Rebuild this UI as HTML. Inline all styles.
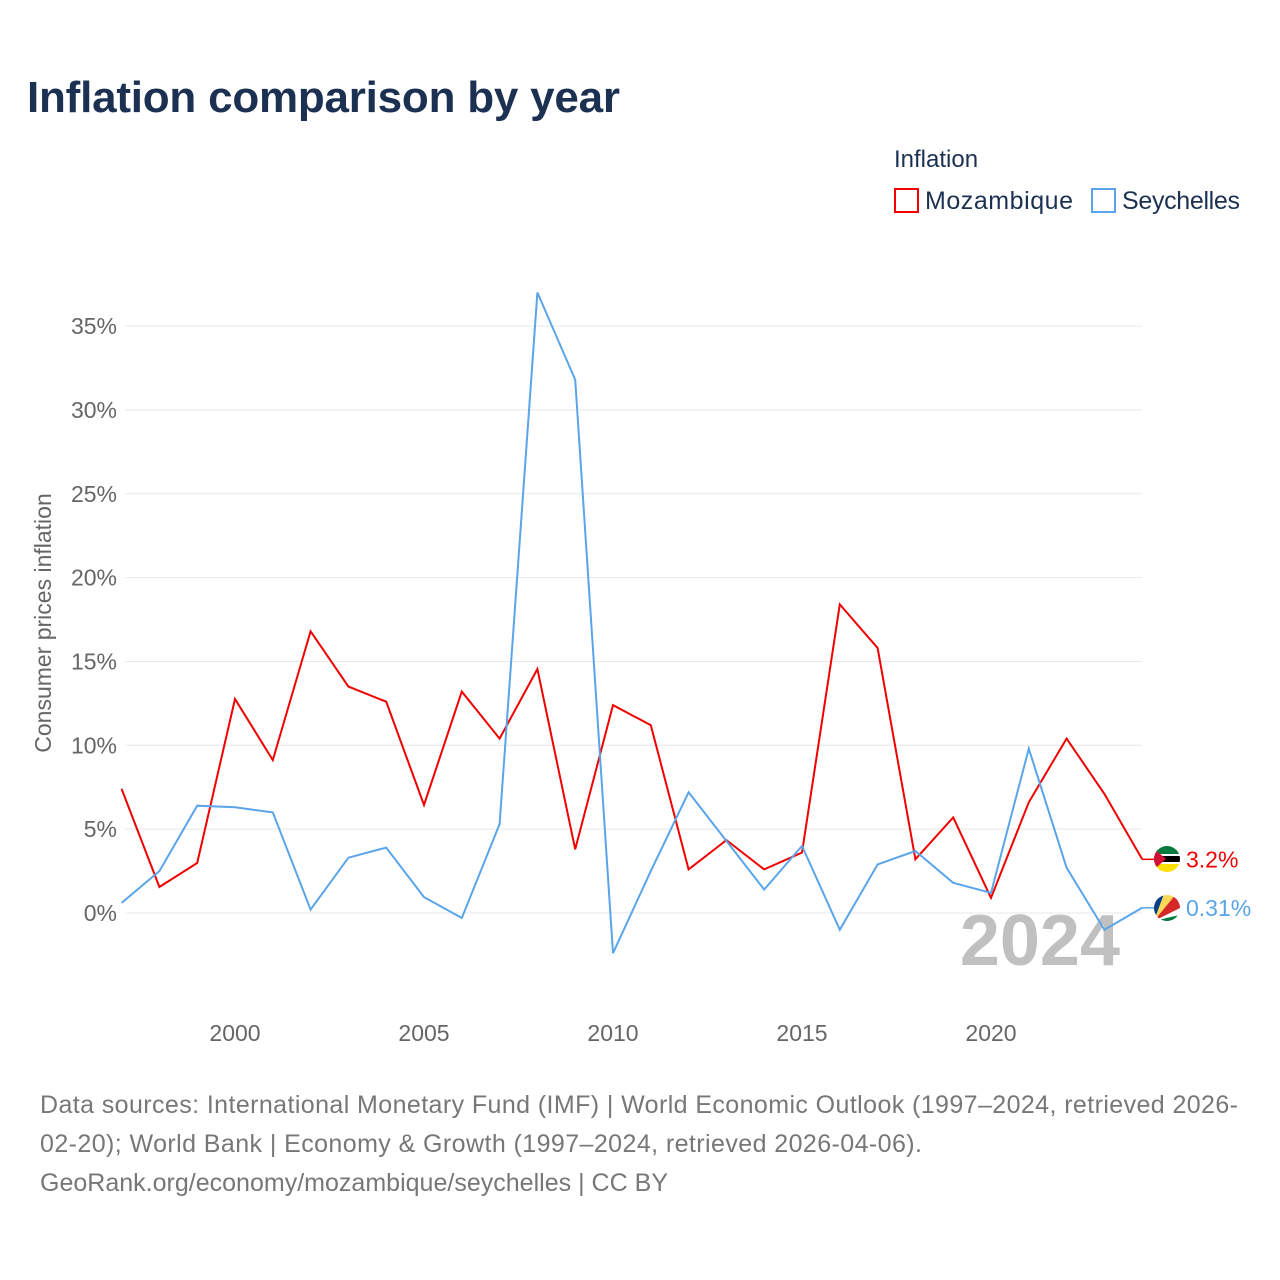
<!DOCTYPE html>
<html><head><meta charset="utf-8"><style>
body{margin:0;background:#fff;font-family:"Liberation Sans",sans-serif;}
#wrap{position:relative;width:1280px;height:1280px;overflow:hidden;}
</style></head><body>
<div id="wrap">
<svg id="chart" width="1280" height="1280">
<defs>
<clipPath id="cm"><circle cx="1167" cy="859" r="13"/></clipPath>
<clipPath id="cs"><circle cx="1167" cy="908" r="13"/></clipPath>
</defs>
<text x="27" y="112" font-size="44" font-weight="bold" fill="#1c3152" textLength="593">Inflation comparison by year</text>
<text x="894" y="167" font-size="24" fill="#1c3152">Inflation</text>
<g><rect x="895" y="189" width="23" height="23" fill="none" stroke="#f00000" stroke-width="2"/><text x="925" y="209" font-size="25" fill="#1c3152" textLength="148">Mozambique</text></g>
<g><rect x="1092" y="189" width="23" height="23" fill="none" stroke="#5aa5ea" stroke-width="2"/><text x="1122" y="209" font-size="25" fill="#1c3152" textLength="118">Seychelles</text></g>
<text transform="translate(51,623) rotate(-90)" text-anchor="middle" font-size="23" fill="#666">Consumer prices inflation</text>
<g id="grid"></g><g id="yticks"></g><g id="xticks"></g>
<text x="1120" y="965" text-anchor="end" font-size="72" font-weight="bold" fill="#c0c0c0">2024</text>
<g id="series"></g>
<g clip-path="url(#cm)">
<rect x="1150" y="845" width="34" height="9" fill="#007a3d"/><rect x="1150" y="854" width="34" height="2" fill="#fff"/><rect x="1150" y="856" width="34" height="6" fill="#000"/><rect x="1150" y="862" width="34" height="2" fill="#fff"/><rect x="1150" y="864" width="34" height="9" fill="#fce100"/>
<polygon points="1150,845 1166,859 1150,873" fill="#d21034"/></g>
<g clip-path="url(#cs)">
<rect x="1150" y="894" width="34" height="28" fill="#fff"/>
<polygon points="1154,921 1154,894 1164,894" fill="#003f87"/>
<polygon points="1154,921 1164,894 1176,894" fill="#fcd856"/>
<polygon points="1154,921 1176,894 1184,894 1184,906" fill="#d62828"/>
<polygon points="1154,921 1184,914 1184,922" fill="#007a3d"/></g>
<text x="40" y="1113" font-size="25" fill="#777" textLength="1198">Data sources: International Monetary Fund (IMF) | World Economic Outlook (1997–2024, retrieved 2026-</text>
<text x="40" y="1152" font-size="25" fill="#777" textLength="882">02-20); World Bank | Economy &amp; Growth (1997–2024, retrieved 2026-04-06).</text>
<text x="40" y="1191" font-size="25" fill="#777" textLength="628">GeoRank.org/economy/mozambique/seychelles | CC BY</text>
</svg></div>
<script>
const years=[1997,1998,1999,2000,2001,2002,2003,2004,2005,2006,2007,2008,2009,2010,2011,2012,2013,2014,2015,2016,2017,2018,2019,2020,2021,2022,2023,2024];
const mozambique=[7.4,1.55,2.98,12.76,9.12,16.8,13.5,12.6,6.44,13.2,10.4,14.55,3.8,12.4,11.2,2.6,4.35,2.6,3.6,18.4,15.8,3.2,5.7,0.9,6.6,10.4,7.1,3.2];
const seychelles=[0.6,2.5,6.4,6.3,6.0,0.2,3.3,3.9,0.95,-0.3,5.3,37.0,31.8,-2.4,2.5,7.2,4.3,1.4,4.0,-1.0,2.9,3.7,1.8,1.2,9.8,2.7,-1.0,0.31];
const yTicks=[0,5,10,15,20,25,30,35];
const xTicks=[2000,2005,2010,2015,2020];
const NS="http://www.w3.org/2000/svg";
function x(v){return 235+(v-2000)*37.8;}
function y(v){return 913-v*16.77;}
function mk(t,a,p){const e=document.createElementNS(NS,t);for(const k in a)e.setAttribute(k,a[k]);p.appendChild(e);return e;}
const grid=document.getElementById('grid'),yt=document.getElementById('yticks'),xt=document.getElementById('xticks'),ser=document.getElementById('series');
yTicks.forEach(v=>{
 const l=mk('line',{x1:125,x2:1142,y1:y(v),y2:y(v),stroke:'#e8e8e8','stroke-width':1},grid);
 
 
 const t=mk('text',{x:117,y:y(v)+8,'text-anchor':'end','font-size':23,fill:'#666'},yt);
 t.textContent=v+'%';
 
 
});
xTicks.forEach(v=>{
 const t=mk('text',{x:x(v),y:1041,'text-anchor':'middle','font-size':23,fill:'#666'},xt);
 t.textContent=v;
 
 
});
function draw(vals,color,name,label){
 const pts=vals.map((v,i)=>x(years[i]).toFixed(1)+','+y(v).toFixed(1)).join(' ');
 const p=mk('polyline',{points:pts,fill:'none',stroke:color,'stroke-width':2},ser);
 
 
 const lv=vals[vals.length-1],ly=y(lv);
 const c=mk('line',{x1:x(years[years.length-1]),x2:1154,y1:ly,y2:ly,stroke:color,'stroke-width':1.5},ser);
 
 
 const t=mk('text',{x:1186,y:ly+8,'font-size':23,fill:color},ser);
 t.textContent=label;
 
 
}
draw(mozambique,'#f00000','mozambique','3.2%');
draw(seychelles,'#5aa5ea','seychelles','0.31%');
</script>
</body></html>
